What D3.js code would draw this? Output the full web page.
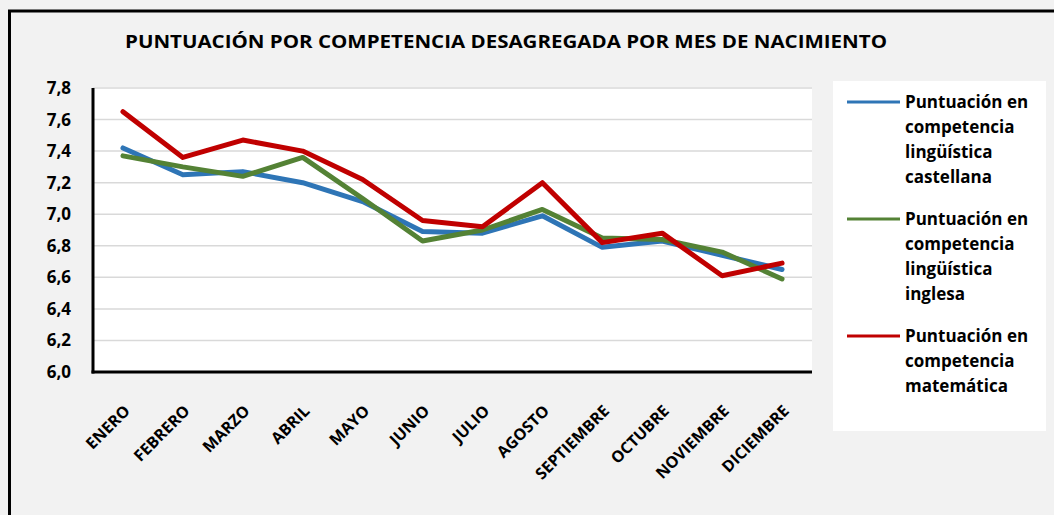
<!DOCTYPE html>
<html><head><meta charset="utf-8">
<script src="https://cdn.jsdelivr.net/npm/d3@7"></script>
<style>body{margin:0;background:#f2f2f2;} svg{display:block;font-family:"Open Sans",sans-serif;font-weight:bold;}</style>
</head><body>
<svg id="c" width="1054" height="515"></svg>
<script>
const title = "PUNTUACIÓN POR COMPETENCIA DESAGREGADA POR MES DE NACIMIENTO";
const months = ["ENERO","FEBRERO","MARZO","ABRIL","MAYO","JUNIO","JULIO","AGOSTO","SEPTIEMBRE","OCTUBRE","NOVIEMBRE","DICIEMBRE"];
const castellana = [7.42,7.25,7.27,7.20,7.08,6.89,6.88,6.99,6.79,6.83,6.74,6.65];
const inglesa    = [7.37,7.30,7.24,7.36,7.10,6.83,6.90,7.03,6.85,6.84,6.76,6.59];
const matematica = [7.65,7.36,7.47,7.40,7.22,6.96,6.92,7.20,6.82,6.88,6.61,6.69];
const yTicks = [6.0,6.2,6.4,6.6,6.8,7.0,7.2,7.4,7.6,7.8];
const seriesNames = [
  ["Puntuación en","competencia","lingüística","castellana"],
  ["Puntuación en","competencia","lingüística","inglesa"],
  ["Puntuación en","competencia","matemática"]
];
const colors = ["#2e75b6","#548235","#c00000"];
const series = [castellana, inglesa, matematica];
const FONT = "Open Sans";

const svg = d3.select("#c");
// outer border
svg.append("rect").attr("x",9.5).attr("y",11).attr("width",1100).attr("height",600)
  .attr("fill","#f2f2f2").attr("stroke","#000").attr("stroke-width",3);

const L=93, R=812, T=88, B=372;
svg.append("rect").attr("x",L).attr("y",T-1).attr("width",R-L).attr("height",B-T+1).attr("fill","#fff");

const x = d3.scaleBand().domain(months).range([L,R]);
const y = d3.scaleLinear().domain([6.0,7.8]).range([B,T]);

// gridlines
svg.append("g").selectAll("line").data(yTicks.slice(1)).join("line")
  .attr("x1",L).attr("x2",R).attr("y1",d=>y(d)).attr("y2",d=>y(d))
  .attr("stroke","#d9d9d9").attr("stroke-width",1.5);

// y axis
const ya = svg.append("g").attr("transform",`translate(${L},0)`)
  .call(d3.axisLeft(y).tickValues(yTicks).tickSize(0).tickPadding(22)
    .tickFormat(d=>d3.format(".1f")(d).replace(".",",")));
ya.select(".domain").remove();
ya.selectAll("text").attr("font-size",17).attr("font-family",FONT).attr("font-weight","bold").attr("fill","#000");

// x axis
const xa = svg.append("g").attr("transform",`translate(0,${B})`)
  .call(d3.axisBottom(x).tickSize(0).tickPadding(0));
xa.select(".domain").remove();
xa.selectAll("text").attr("font-size",16).attr("font-family",FONT).attr("font-weight","bold").attr("fill","#000")
  .attr("text-anchor","end").attr("dy",0).attr("y",0)
  .attr("transform",d=>`translate(8,40) rotate(-45)`);

// axis lines
svg.append("line").attr("x1",L).attr("x2",L).attr("y1",T).attr("y2",B+1.5).attr("stroke","#000").attr("stroke-width",3);
svg.append("line").attr("x1",L-1.5).attr("x2",R).attr("y1",B).attr("y2",B).attr("stroke","#000").attr("stroke-width",3);

// lines
const line = d3.line().x((d,i)=>x(months[i])+x.bandwidth()/2).y(d=>y(d));
series.forEach((s,k)=>{
  svg.append("path").datum(s).attr("d",line).attr("fill","none")
    .attr("stroke",colors[k]).attr("stroke-width",5).attr("stroke-linejoin","round").attr("stroke-linecap","round");
});

// title
svg.append("text").attr("x",125).attr("y",48).attr("font-size",18).attr("font-family",FONT)
  .attr("textLength",762).attr("lengthAdjust","spacingAndGlyphs").text(title);

// legend
svg.append("rect").attr("x",833).attr("y",81).attr("width",213).attr("height",350).attr("fill","#fff");
const legTops = [102,219,336];
seriesNames.forEach((lines,k)=>{
  const g = svg.append("g");
  g.append("line").attr("x1",847).attr("x2",900).attr("y1",legTops[k]).attr("y2",legTops[k])
    .attr("stroke",colors[k]).attr("stroke-width",3);
  lines.forEach((t,j)=>{
    g.append("text").attr("x",905).attr("y",legTops[k]+6+j*25).attr("font-size",17)
      .attr("font-family",FONT).attr("fill","#000").text(t);
  });
});
</script>
</body></html>
